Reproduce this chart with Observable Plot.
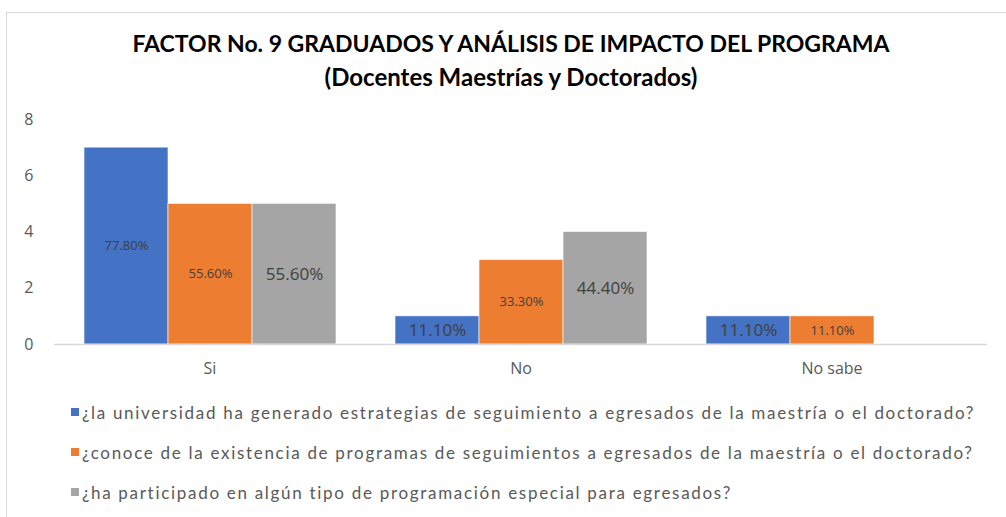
<!DOCTYPE html>
<html>
<head>
<meta charset="utf-8">
<script src="https://cdn.jsdelivr.net/npm/d3@7"></script>
<script src="https://cdn.jsdelivr.net/npm/@observablehq/plot@0.6"></script>
<style>
  html, body { margin: 0; padding: 0; background: #fff; }
  #page { position: relative; width: 1006px; height: 517px; overflow: hidden; background: #fff; }
  #frame { position: absolute; left: 6px; top: 12px; right: 0; bottom: 0; border-top: 1.5px solid #d9d9d9; border-left: 1.5px solid #d9d9d9; }
  #title { position: absolute; left: 0; width: 1022px; top: 27px; text-align: center; font-family: Lato, "Open Sans", sans-serif; font-weight: 700; font-size: 23px; line-height: 33px; color: #000; }
  #title div:nth-child(2) { font-size: 24px; }
  #chart { position: absolute; left: 0; top: 100px; }
  #legend { position: absolute; left: 71px; top: 392px; font-family: Lato, "Open Sans", sans-serif; font-size: 17px; letter-spacing: 1.7px; color: #595959; }
  .row { height: 40px; display: flex; align-items: center; white-space: nowrap; }
  .sw { width: 8px; height: 8px; margin-right: 3px; flex: none; }
</style>
</head>
<body>
<div id="page">
  <div id="frame"></div>
  <div id="title"></div>
  <div id="chart"></div>
  <div id="legend"></div>
</div>
<script>
const titleLines = ["FACTOR No. 9 GRADUADOS Y ANÁLISIS DE IMPACTO DEL PROGRAMA", "(Docentes Maestrías y Doctorados)"];
const categories = ["Si", "No", "No sabe"];
const seriesNames = [
  "¿la universidad ha generado estrategias de seguimiento a egresados de la maestría o el doctorado?",
  "¿conoce de la existencia de programas de seguimientos a egresados de la maestría o el doctorado?",
  "¿ha participado en algún tipo de programación especial para egresados?"
];
const seriesColors = ["#4472C4", "#ED7D31", "#A5A5A5"];
const blueValues = [7, 1, 1];
const orangeValues = [5, 3, 1];
const grayValues = [5, 4, null];
const blueLabels = ["77.80%", "11.10%", "11.10%"];
const orangeLabels = ["55.60%", "33.30%", "11.10%"];
const grayLabels = ["55.60%", "44.40%", null];
const yTicks = [0, 2, 4, 6, 8];

// label font size style (small / large) per series x category
const labelSizeStyle = [[13, 17, 17], [13, 13, 13], [17, 17, 17]];

const allValues = [blueValues, orangeValues, grayValues];
const allLabels = [blueLabels, orangeLabels, grayLabels];
const data = [];
seriesNames.forEach((s, i) => categories.forEach((c, j) => {
  const v = allValues[i][j];
  if (v != null) data.push({cat: c, series: s, value: v, label: allLabels[i][j], size: labelSizeStyle[i][j]});
}));

document.getElementById("title").innerHTML = titleLines.map(t => `<div>${t}</div>`).join("");

const chart = Plot.plot({
  width: 1006,
  height: 285,
  marginLeft: 54,
  marginRight: 19,
  marginTop: 19,
  marginBottom: 41,
  style: {fontFamily: "'Open Sans', sans-serif", color: "#595959", background: "transparent"},
  fx: {domain: categories, padding: 0, label: null},
  x: {domain: seriesNames, paddingInner: 0, paddingOuter: 0.35, axis: null},
  y: {domain: [0, 8], label: null},
  color: {domain: seriesNames, range: seriesColors},
  marks: [
    Plot.axisY({ticks: yTicks, tickSize: 0, tickPadding: 21, fontSize: 16, label: null}),
    Plot.axisFx({anchor: "bottom", tickSize: 0, tickPadding: 18, fontSize: 16, label: null}),
    Plot.barY(data, {fx: "cat", x: "series", y: "value", fill: "series", stroke: "#ffffff", strokeWidth: 0.6}),
    Plot.ruleY([0], {stroke: "#d9d9d9", strokeWidth: 1.5}),
    Plot.text(data.filter(d => d.size < 15), {fx: "cat", x: "series", y: d => d.value / 2, text: "label", fontSize: 13, fill: "#404040"}),
    Plot.text(data.filter(d => d.size >= 15), {fx: "cat", x: "series", y: d => d.value / 2, text: "label", fontSize: 17, fill: "#404040"})
  ]
});
document.getElementById("chart").appendChild(chart);

const legend = d3.select("#legend");
seriesNames.forEach((s, i) => {
  const row = legend.append("div").attr("class", "row");
  row.append("div").attr("class", "sw").style("background", seriesColors[i]);
  row.append("span").text(s);
});
</script>
</body>
</html>
